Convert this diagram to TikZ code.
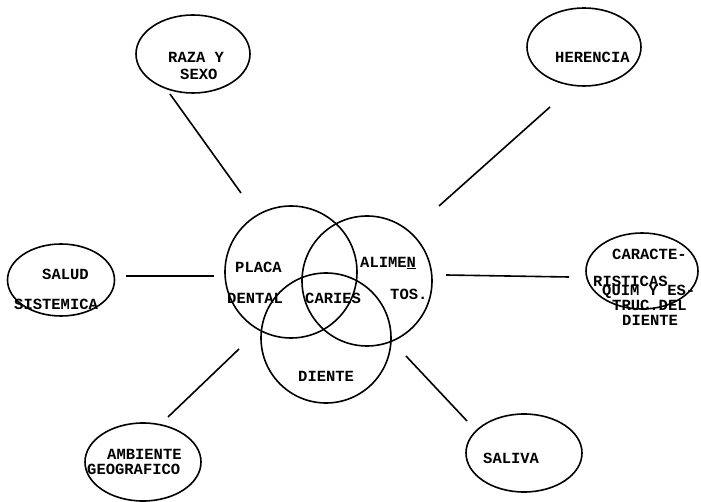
\documentclass[tikz,border=0pt]{standalone}
\usepackage{fontspec}
\setmonofont{Liberation Mono}
\usetikzlibrary{shapes.geometric}
\begin{document}
\begin{tikzpicture}[x=1pt,y=-1pt,
  lbl/.style={font=\ttfamily\bfseries\fontsize{15.5}{15.5}\selectfont, inner sep=0pt, anchor=west},
  oval/.style={draw, ellipse, line width=1.6pt, inner sep=0pt},
  venn/.style={draw, circle, line width=1.6pt, inner sep=0pt},
  link/.style={line width=1.6pt}]
\useasboundingbox (0,0) rectangle (701,502);
% Venn circles
\node[venn, minimum size=132pt] (placa) at (291,272) {};
\node[venn, minimum size=130pt] (alim) at (367,281) {};
\node[venn, minimum size=130pt] (diente) at (326,338) {};
\node[lbl] (tplaca) at (235,267) {PLACA};
\node[lbl] (tdental) at (227,298) {DENTAL};
\node[lbl] (tcaries) at (305,298) {CARIES};
\node[lbl] (talimen) at (360,263) {ALIME\underline{N}};
\node[lbl] (ttos) at (390,294) {TOS.};
\node[lbl] (tdiente) at (298,376) {DIENTE};
% outer ellipses
\node[oval, minimum width=114pt, minimum height=78pt] (raza) at (193,54) {};
\node[lbl] (traza1) at (168,57) {RAZA Y};
\node[lbl] (traza2) at (180,74) {SEXO};
\node[oval, minimum width=114pt, minimum height=78pt] (herencia) at (584,47) {};
\node[lbl] (therencia) at (555,57) {HERENCIA};
\node[oval, minimum width=107pt, minimum height=72pt] (salud) at (61,280) {};
\node[lbl] (tsalud1) at (42,274) {SALUD};
\node[lbl] (tsalud2) at (14,304) {SISTEMICA};
\node[oval, minimum width=112pt, minimum height=76pt] (caract) at (642,271) {};
\node[lbl] (tcar1) at (612,254) {CARACTE-};
\node[lbl] (tcar2) at (593,281) {RISTICAS};
\node[lbl] (tcar3) at (602,292) {QUIM Y ES-};
\node[lbl] (tcar4) at (612,305) {TRUC.DEL};
\node[lbl] (tcar5) at (622,320) {DIENTE};
\node[oval, minimum width=116pt, minimum height=78pt] (ambiente) at (143,462) {};
\node[lbl] (tamb1) at (107,454) {AMBIENTE};
\node[lbl] (tamb2) at (87,469) {GEOGRAFICO};
\node[oval, minimum width=116pt, minimum height=78pt] (saliva) at (524,453) {};
\node[lbl] (tsaliva) at (483,458) {SALIVA};
% connector end points
\coordinate (ra) at (170,94);   \coordinate (rb) at (241,193);
\coordinate (ha) at (550,107);  \coordinate (hb) at (439,206);
\coordinate (sa) at (126,276);  \coordinate (sb) at (214,276);
\coordinate (ca) at (446,275);  \coordinate (cb) at (569,277);
\coordinate (aa) at (239,349);  \coordinate (ab) at (168,417);
\coordinate (va) at (406,356);  \coordinate (vb) at (467,421);
\draw[link] (ra) -- (rb);
\draw[link] (ha) -- (hb);
\draw[link] (sa) -- (sb);
\draw[link] (ca) -- (cb);
\draw[link] (aa) -- (ab);
\draw[link] (va) -- (vb);
\end{tikzpicture}
\end{document}
